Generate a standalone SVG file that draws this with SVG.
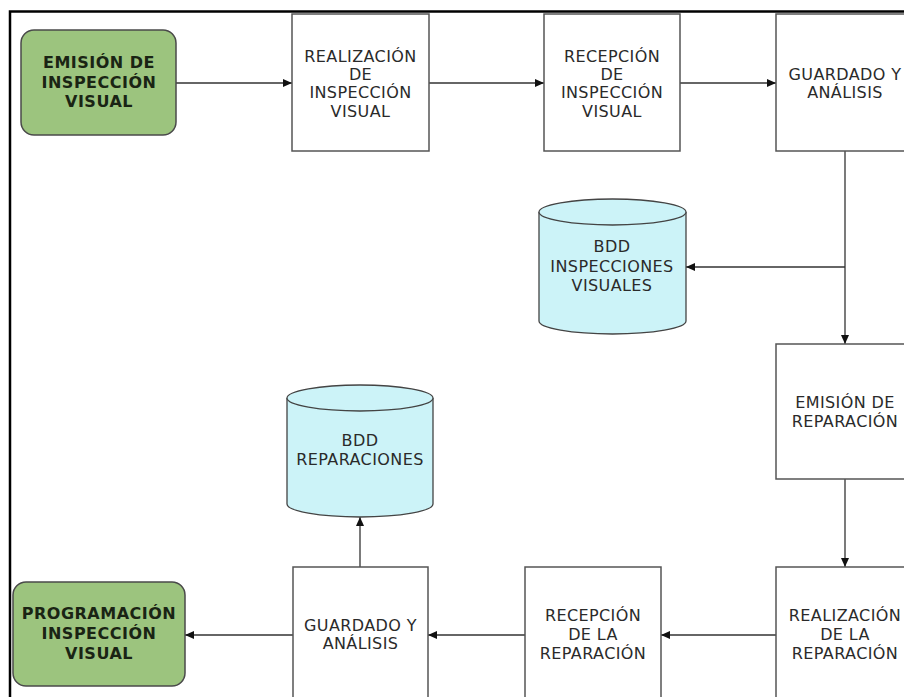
<svg xmlns="http://www.w3.org/2000/svg" width="904" height="697" viewBox="0 0 904 697">
<defs>
<marker id="arr" markerUnits="userSpaceOnUse" markerWidth="10" markerHeight="8" refX="9" refY="4" orient="auto">
<path d="M0,0 L9,4 L0,8 Z" fill="#111"/>
</marker>
<style>
.box{fill:#fff;stroke:#555;stroke-width:1.5}
.term{fill:#9CC47E;stroke:#4a4a4a;stroke-width:1.5}
.cyl{fill:#CCF3F8;stroke:#444;stroke-width:1.3}
.t{font-family:"DejaVu Sans","Liberation Sans",sans-serif;font-size:16px;fill:#2a2a2a;text-anchor:middle;letter-spacing:0.4px}
.tb{font-family:"DejaVu Sans","Liberation Sans",sans-serif;font-size:16px;font-weight:bold;fill:#1a2414;text-anchor:middle;letter-spacing:0.5px}
.c{stroke:#333;stroke-width:1.3;fill:none;marker-end:url(#arr)}
</style>
</defs>
<rect width="904" height="697" fill="#fff"/>
<g id="frame" stroke="#000" stroke-width="2.5" fill="none">
<path d="M10,697 L10,11.5 L904,11.5"/>
</g>
<g id="connectors">
<path class="c" d="M176,83 L292,83"/>
<path class="c" d="M429,83 L544,83"/>
<path class="c" d="M680,83 L776,83"/>
<path class="c" d="M845,151 L845,344"/>
<path class="c" d="M845,267 L686,267"/>
<path class="c" d="M845,479 L845,567"/>
<path class="c" d="M776,635 L661,635"/>
<path class="c" d="M525,635 L428,635"/>
<path class="c" d="M360,567 L360,517"/>
<path class="c" d="M293,635 L185,635"/>
</g>
<g id="n1">
<rect class="term" x="21" y="30" width="155" height="105" rx="13"/>
<text class="tb" x="99" y="68">EMISIÓN DE</text>
<text class="tb" x="99" y="88">INSPECCIÓN</text>
<text class="tb" x="99" y="107">VISUAL</text>
</g>
<g id="n2">
<rect class="box" x="292" y="14" width="137" height="137"/>
<text class="t" x="360.5" y="62">REALIZACIÓN</text>
<text class="t" x="360.5" y="80">DE</text>
<text class="t" x="360.5" y="98">INSPECCIÓN</text>
<text class="t" x="360.5" y="117">VISUAL</text>
</g>
<g id="n3">
<rect class="box" x="544" y="14" width="136" height="137"/>
<text class="t" x="612" y="62">RECEPCIÓN</text>
<text class="t" x="612" y="80">DE</text>
<text class="t" x="612" y="98">INSPECCIÓN</text>
<text class="t" x="612" y="117">VISUAL</text>
</g>
<g id="n4">
<rect class="box" x="776" y="14" width="137" height="137"/>
<text class="t" x="845" y="80">GUARDADO Y</text>
<text class="t" x="845" y="98">ANÁLISIS</text>
</g>
<g id="db1">
<path class="cyl" d="M539,212 L539,321 A73.5,13 0 0 0 686,321 L686,212"/>
<ellipse class="cyl" cx="612.5" cy="212" rx="73.5" ry="13"/>
<text class="t" x="612" y="252">BDD</text>
<text class="t" x="612" y="272">INSPECCIONES</text>
<text class="t" x="612" y="291">VISUALES</text>
</g>
<g id="n5">
<rect class="box" x="776" y="344" width="137" height="135"/>
<text class="t" x="845" y="408">EMISIÓN DE</text>
<text class="t" x="845" y="427">REPARACIÓN</text>
</g>
<g id="n6">
<rect class="box" x="776" y="567" width="137" height="150"/>
<text class="t" x="845" y="621">REALIZACIÓN</text>
<text class="t" x="845" y="640">DE LA</text>
<text class="t" x="845" y="659">REPARACIÓN</text>
</g>
<g id="n7">
<rect class="box" x="525" y="567" width="136" height="150"/>
<text class="t" x="593" y="621">RECEPCIÓN</text>
<text class="t" x="593" y="640">DE LA</text>
<text class="t" x="593" y="659">REPARACIÓN</text>
</g>
<g id="n8">
<rect class="box" x="293" y="567" width="135" height="150"/>
<text class="t" x="360.5" y="631">GUARDADO Y</text>
<text class="t" x="360.5" y="649">ANÁLISIS</text>
</g>
<g id="db2">
<path class="cyl" d="M287,398 L287,504 A73,13 0 0 0 433,504 L433,398"/>
<ellipse class="cyl" cx="360" cy="398" rx="73" ry="13"/>
<text class="t" x="360" y="446">BDD</text>
<text class="t" x="360" y="465">REPARACIONES</text>
</g>
<g id="n9">
<rect class="term" x="13" y="582" width="172" height="104" rx="13"/>
<text class="tb" x="99" y="619">PROGRAMACIÓN</text>
<text class="tb" x="99" y="639">INSPECCIÓN</text>
<text class="tb" x="99" y="659">VISUAL</text>
</g>
</svg>
